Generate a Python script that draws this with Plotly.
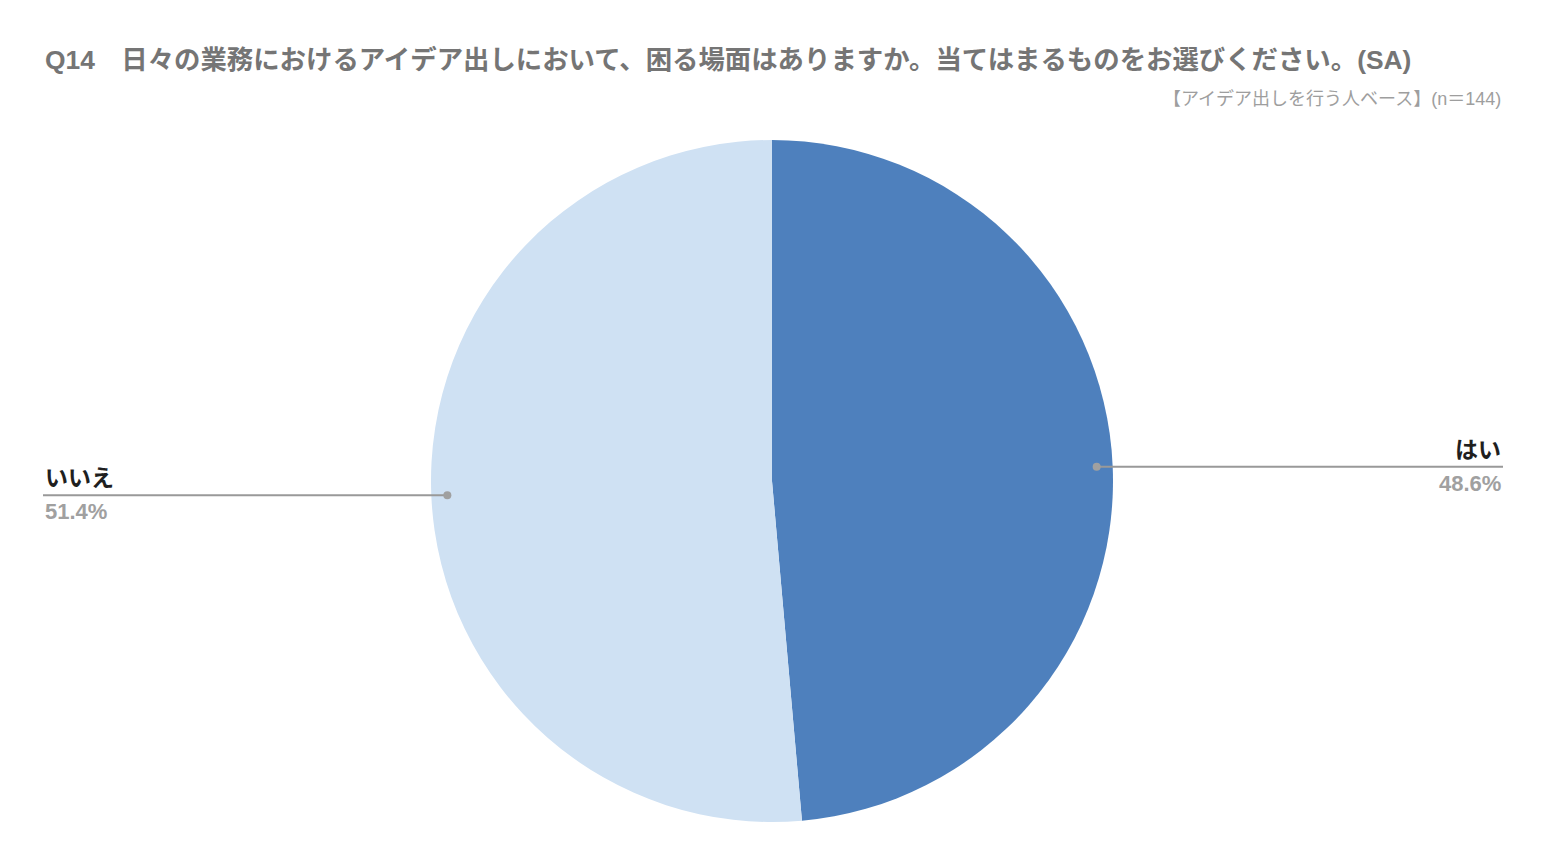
import math
import plotly.graph_objects as go

# data
labels = ["はい", "いいえ"]
values = [48.6, 51.4]
colors = ["#4e80bd", "#cfe1f3"]
title_text = "Q14　日々の業務におけるアイデア出しにおいて、困る場面はありますか。当てはまるものをお選びください。(SA)"
base_text = "【アイデア出しを行う人ベース】(n＝144)"

OFF = 8  # page body margin
W, H = 1546 - 2 * OFF, 866 - 2 * OFF
cx, cy, R = 772 - OFF, 481 - OFF, 341  # pie centre / radius in px
FONT = "Liberation Sans, Arial, Noto Sans CJK JP, sans-serif"

fig = go.Figure()

fig.add_trace(go.Pie(labels=labels, values=values, sort=False, direction="clockwise",
                     rotation=0, textinfo="none", hoverinfo="label+percent",
                     marker=dict(colors=colors, line=dict(width=0)),
                     domain=dict(x=[(cx - R) / W, (cx + R) / W],
                                 y=[1 - (cy + R) / H, 1 - (cy - R) / H]),
                     showlegend=False))

# leader lines, computed from the slice mid angles
total = sum(values)
cum = 0
for lab, v in zip(labels, values):
    mid = (cum + v / 2) / total * 2 * math.pi
    cum += v
    dx = cx + 0.953 * R * math.sin(mid)
    dy = cy - 0.953 * R * math.cos(mid)
    right = math.sin(mid) > 0
    ex = (1503 if right else 43) - OFF
    fig.add_shape(type="line", x0=dx, x1=ex, y0=dy, y1=dy, xref="x", yref="y",
                  line=dict(color="#999999", width=2), layer="above")
    fig.add_shape(type="circle", x0=dx - 4, x1=dx + 4, y0=dy - 4, y1=dy + 4,
                  xref="x", yref="y", fillcolor="#a0a0a0",
                  line=dict(width=0), layer="above")
    anchor = "right" if right else "left"
    fig.add_annotation(x=ex, y=dy - 2, text="<b>%s</b>" % lab, showarrow=False,
                       xanchor=anchor, yanchor="bottom",
                       font=dict(family=FONT, size=23, color="#1f1f1f"))
    fig.add_annotation(x=ex, y=dy + 2, text="<b>%.1f%%</b>" % (v / total * 100), showarrow=False,
                       xanchor=anchor, yanchor="top",
                       font=dict(family=FONT, size=22, color="#a0a0a0"))

fig.add_annotation(x=43 - OFF, y=60 - OFF, text="<b>" + title_text + "</b>", showarrow=False,
                   xanchor="left", yanchor="middle",
                   font=dict(family=FONT, size=26.4, color="#757575"))
fig.add_annotation(x=1503 - OFF, y=99 - OFF, text=base_text, showarrow=False,
                   xanchor="right", yanchor="middle",
                   font=dict(family=FONT, size=18, color="#9e9e9e"))

fig.update_layout(width=W, height=H, margin=dict(l=0, r=0, t=0, b=0),
                  paper_bgcolor="white", plot_bgcolor="white",
                  xaxis=dict(range=[0, W], visible=False, domain=[0, 1]),
                  yaxis=dict(range=[H, 0], visible=False, domain=[0, 1]))

fig.write_html("out.html")
